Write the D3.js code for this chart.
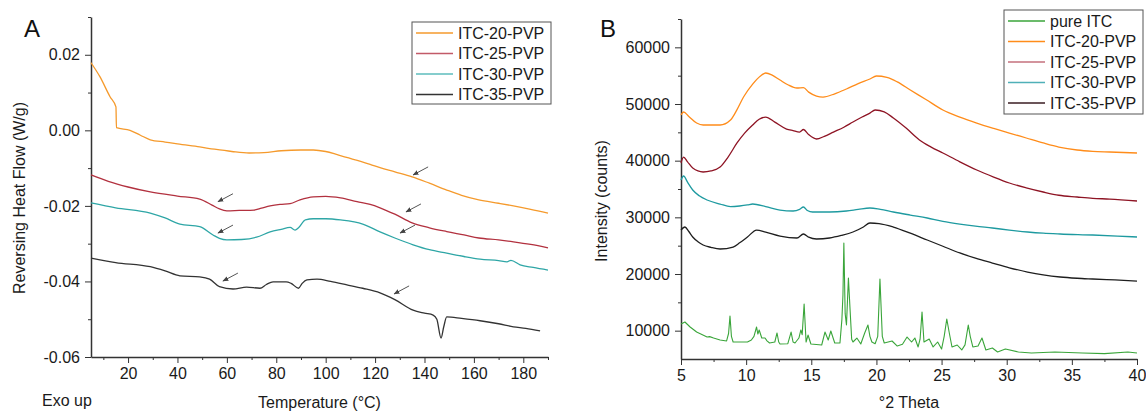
<!DOCTYPE html>
<html>
<head>
<meta charset="utf-8">
<script src="https://cdn.jsdelivr.net/npm/d3@7"></script>
<style>
  body { margin: 0; background: #fff; }
  svg { font-family: "Liberation Sans", Arial, sans-serif; }
  .axis path, .axis line { stroke: #333; }
  .axis path { stroke-width: 1.5; }
  .axis text { font-size: 16px; fill: #1a1a1a; }
  .lbl { font-size: 16px; fill: #1a1a1a; }
</style>
</head>
<body>
<svg id="chart" width="1146" height="414"></svg>
<script>
// ---- data: panel A, DSC reversing heat flow [T (°C), W/g]
const itc20Dsc = [[5,0.0179],[8.6,0.0142],[12.7,0.0089],[15.1,0.0062],[15.3,0.0007],[20.8,0],[25,-0.0013],[29,-0.0025],[35,-0.0031],[40,-0.0036],[49,-0.0044],[55,-0.0050],[62,-0.0056],[69,-0.0060],[75,-0.0059],[82,-0.0054],[90,-0.0052],[95,-0.0052],[100,-0.0056],[105,-0.0065],[112,-0.0078],[118,-0.0090],[122,-0.0099],[128,-0.0110],[135,-0.0123],[142,-0.0140],[149,-0.0158],[155,-0.0172],[162,-0.0184],[170,-0.0193],[176,-0.0200],[183,-0.0209],[190,-0.0219]];
const itc25Dsc = [[5,-0.0118],[12,-0.0135],[20,-0.0150],[29,-0.0163],[40,-0.0174],[49,-0.0182],[54,-0.0198],[57,-0.0208],[60,-0.0213],[65,-0.0212],[71,-0.0211],[74,-0.0206],[77.5,-0.0200],[81.5,-0.0196],[85.6,-0.0194],[89.6,-0.0184],[95,-0.0176],[100,-0.0175],[106,-0.0179],[112.7,-0.0189],[118,-0.0196],[122,-0.0205],[128,-0.0222],[135,-0.0245],[142,-0.0258],[149,-0.0268],[156,-0.0277],[162,-0.0285],[170,-0.0290],[176,-0.0295],[183,-0.0302],[190,-0.0311]];
const itc30Dsc = [[5,-0.0192],[15,-0.0205],[29,-0.0219],[35,-0.0232],[41,-0.0248],[49,-0.0255],[54.4,-0.0277],[57,-0.0286],[60,-0.0290],[66,-0.0289],[72,-0.0283],[77.5,-0.0269],[82,-0.0262],[85.6,-0.0257],[87.6,-0.0264],[89,-0.0258],[91.8,-0.0237],[95,-0.0234],[100,-0.0234],[106,-0.0237],[115,-0.0248],[122,-0.0269],[128,-0.0285],[135.4,-0.0303],[142,-0.0316],[149,-0.0325],[156,-0.0334],[162.5,-0.0341],[170,-0.0345],[173.4,-0.0348],[175,-0.0344],[178.7,-0.0356],[184,-0.0363],[190,-0.0370]];
const itc35Dsc = [[5,-0.0338],[15,-0.0350],[29,-0.0361],[35,-0.0372],[41,-0.0385],[49,-0.0388],[53,-0.0394],[57,-0.0414],[62.5,-0.0420],[68,-0.0415],[73.4,-0.0418],[76,-0.0408],[78.7,-0.0401],[84,-0.0401],[86,-0.0405],[89,-0.0418],[90.5,-0.0405],[92.4,-0.0396],[96.5,-0.0394],[102,-0.0400],[108.6,-0.0409],[115,-0.0418],[122,-0.0430],[128,-0.0448],[135.4,-0.0476],[140,-0.0484],[143.5,-0.0489],[145,-0.0500],[146.7,-0.0550],[147.8,-0.0520],[149,-0.0494],[155,-0.0498],[162.5,-0.0504],[170,-0.0512],[176,-0.0520],[181,-0.0524],[186.8,-0.0531]];
// arrow tips (T, W/g) marking the glass transitions
const dscArrows = [[135.4,-0.0118],[56.4,-0.0189],[132.5,-0.0216],[56.4,-0.0272],[130.1,-0.0272],[58.4,-0.0399],[127.7,-0.0433]];

// ---- data: panel B, XRD [°2θ, counts]
const pureItcXrd = [[5,11180],[5.3,11530],[5.7,10650],[6.2,9760],[7.0,8880],[7.2,8950],[7.5,8700],[8,8350],[8.5,8180],[8.65,9500],[8.76,12590],[8.87,9000],[9.0,8000],[10.1,8000],[10.4,8350],[10.6,9000],[10.8,10650],[10.9,9400],[11.0,10120],[11.2,8700],[11.45,8700],[11.6,8200],[11.8,7820],[12.2,8000],[12.37,9590],[12.5,8000],[12.6,7650],[13.2,7700],[13.45,9760],[13.6,8000],[13.75,7820],[14.05,8700],[14.2,10120],[14.3,9300],[14.45,14710],[14.6,8000],[14.75,9230],[14.97,7650],[15.8,7470],[16.05,9760],[16.3,8350],[16.5,9940],[16.8,7820],[17.2,7820],[17.35,12000],[17.43,16290],[17.5,25470],[17.6,13000],[17.7,11000],[17.85,19300],[17.97,14000],[18.1,8500],[18.2,8000],[18.5,8700],[18.8,7650],[19.1,9590],[19.35,11000],[19.5,9000],[19.65,8000],[19.9,7700],[20.1,9000],[20.27,19120],[20.45,9000],[20.6,7820],[21.2,8180],[21.6,7290],[22.0,7600],[22.35,8880],[22.7,8000],[22.95,8700],[23.2,7120],[23.35,8500],[23.5,13290],[23.65,8000],[24.05,8530],[24.35,7120],[24.7,8000],[25.0,6760],[25.2,9000],[25.4,12060],[25.6,9500],[25.8,7120],[26.2,7470],[26.55,6590],[26.8,7500],[27.05,11000],[27.2,9000],[27.4,7120],[27.8,7300],[28.1,8700],[28.4,6590],[28.9,6940],[29.3,6230],[29.9,6760],[30.9,6230],[31.9,6060],[33.7,6230],[35.8,6060],[37.5,5950],[39.3,6230],[40,6060]];
const itc20Xrd = [[5,48060],[5.2,48590],[5.6,47800],[6.2,46640],[6.7,46290],[8,46290],[8.8,47170],[9.3,49000],[9.8,51230],[10.5,53500],[11.1,54940],[11.5,55470],[12,55100],[12.6,54230],[13.2,53400],[13.9,52820],[14.4,52900],[14.8,52100],[15.4,51410],[15.9,51230],[16.8,51800],[17.7,52650],[18.6,53600],[19.5,54410],[20.0,54940],[20.8,54700],[21.6,53900],[22.6,52470],[23.8,50800],[25.1,48940],[26.4,47700],[27.7,46640],[29,45700],[30.2,44880],[31.5,44000],[32.8,43120],[34,42400],[35.4,41880],[36.6,41650],[37.9,41530],[40,41350]];
const itc25Xrd = [[5,39590],[5.2,40640],[5.5,39800],[5.9,38700],[6.7,38000],[7.3,38200],[8,38880],[8.6,40600],[9.3,43120],[9.9,44900],[10.5,46290],[11,47300],[11.5,47700],[12.2,46800],[13.1,45580],[13.6,45300],[14.1,45050],[14.4,45500],[14.8,44600],[15.4,43820],[16,44300],[16.7,45050],[17.5,45900],[18.2,46820],[18.9,47700],[19.5,48400],[19.9,48940],[20.6,48600],[21.3,47530],[22.3,45700],[23.3,43650],[24.2,42400],[25.1,41350],[26.4,39800],[27.7,38350],[29,37100],[30.2,36060],[31.5,35200],[32.8,34470],[34,33900],[35.4,33590],[36.6,33350],[37.9,33230],[40,32880]];
const itc30Xrd = [[5,36590],[5.2,37290],[5.5,36200],[5.9,34820],[6.4,33800],[7,33060],[8,32350],[8.8,31900],[9.5,32000],[10.1,32180],[10.5,32350],[11.5,31900],[12.6,31290],[13.6,31120],[14.1,31400],[14.4,31820],[14.7,31200],[15.1,30940],[16.4,30940],[17.7,31120],[18.6,31400],[19.5,31650],[20.3,31400],[21.3,30940],[22.6,30400],[23.9,29880],[25.1,29300],[26.4,28820],[27.6,28450],[28.9,28120],[30.2,27750],[31.6,27410],[32.8,27200],[34.1,27060],[36.6,26880],[38.5,26700],[40,26530]];
const itc35Xrd = [[5,27760],[5.3,28290],[5.6,27500],[5.9,26530],[6.3,25700],[6.7,25120],[7.3,24700],[8,24410],[9,24760],[9.5,25500],[10.1,26530],[10.8,27760],[11.5,27400],[12.6,26700],[13.9,26350],[14.4,27060],[14.8,26500],[15.4,26180],[16.4,26350],[17.3,26800],[18.2,27410],[19,28300],[19.5,29000],[20.2,28900],[21.3,28290],[22.6,27200],[23.9,26000],[25.1,24900],[26.4,23710],[27.6,22800],[28.9,21940],[30.2,21100],[31.6,20350],[32.8,19850],[34.1,19470],[35.4,19250],[36.6,19120],[38.3,18950],[40,18760]];

// ticks
const dscXTicks = [20, 40, 60, 80, 100, 120, 140, 160, 180];
const dscXMinor = [10, 30, 50, 70, 90, 110, 130, 150, 170, 190];
const dscYTicks = [0.02, 0, -0.02, -0.04, -0.06];
const dscYMinor = [0.03, 0.01, -0.01, -0.03, -0.05];
const xrdXTicks = [5, 10, 15, 20, 25, 30, 35, 40];
const xrdXMinor = [7.5, 12.5, 17.5, 22.5, 27.5, 32.5, 37.5];
const xrdYTicks = [10000, 20000, 30000, 40000, 50000, 60000];
const xrdYMinor = [15000, 25000, 35000, 45000, 55000, 65000];

const svg = d3.select('#chart');

// arrowhead marker
svg.append('defs').append('marker')
    .attr('id', 'ah')
    .attr('viewBox', '0 0 10 10')
    .attr('refX', 9).attr('refY', 5)
    .attr('markerWidth', 6).attr('markerHeight', 6)
    .attr('orient', 'auto')
  .append('path')
    .attr('d', 'M0,1 L10,5 L0,9 z')
    .attr('fill', '#444');

function drawPanel(p) {
    const x = d3.scaleLinear().domain(p.xDomain).range([p.left, p.right]);
    const y = d3.scaleLinear().domain(p.yDomain).range([p.bottom, p.top]);
    const g = svg.append('g');

    // minor ticks first, then the labelled axes
    g.append('g').attr('class', 'axis')
        .attr('transform', `translate(0,${p.bottom})`)
        .call(d3.axisBottom(x).tickValues(p.xMinor).tickSize(3).tickFormat(''))
        .call(s => s.select('.domain').remove());
    g.append('g').attr('class', 'axis')
        .attr('transform', `translate(${p.left},0)`)
        .call(d3.axisLeft(y).tickValues(p.yMinor).tickSize(3).tickFormat(''))
        .call(s => s.select('.domain').remove());

    g.append('g').attr('class', 'axis')
        .attr('transform', `translate(0,${p.bottom})`)
        .call(d3.axisBottom(x).tickValues(p.xTicks).tickSize(6).tickPadding(5).tickSizeOuter(0));
    g.append('g').attr('class', 'axis')
        .attr('transform', `translate(${p.left},0)`)
        .call(d3.axisLeft(y).tickValues(p.yTicks).tickSize(6).tickPadding(5).tickSizeOuter(0)
            .tickFormat(p.yFormat));

    const line = d3.line()
        .x(d => x(d[0]))
        .y(d => y(d[1]));

    p.series.forEach(s => {
        g.append('path')
            .datum(s.data)
            .attr('fill', 'none')
            .attr('stroke', s.color)
            .attr('stroke-width', s.sharp ? 1.1 : 1.3)
            .attr('stroke-linejoin', 'round')
            .attr('d', line.curve(s.sharp ? d3.curveLinear : d3.curveMonotoneX));
    });

    // legend
    const lg = g.append('g');
    lg.append('rect')
        .attr('x', p.legend.x).attr('y', p.legend.y)
        .attr('width', p.legend.w).attr('height', p.legend.h)
        .attr('fill', '#fff').attr('stroke', '#555').attr('stroke-width', 1);
    p.legendOrder.forEach((s, i) => {
        const ly = p.legend.y + 11 + i * 20.5;
        lg.append('line')
            .attr('x1', p.legend.x + 4).attr('x2', p.legend.x + 41)
            .attr('y1', ly).attr('y2', ly)
            .attr('stroke', s.legendColor || s.color).attr('stroke-width', 1.3);
        lg.append('text')
            .attr('class', 'lbl')
            .attr('x', p.legend.x + 46).attr('y', ly)
            .attr('dominant-baseline', 'central')
            .text(s.name);
    });

    // titles
    g.append('text').attr('class', 'lbl')
        .attr('x', (p.left + p.right) / 2).attr('y', 408)
        .attr('text-anchor', 'middle')
        .text(p.xTitle);
    g.append('text').attr('class', 'lbl')
        .attr('transform', `translate(${p.yTitleX},${p.yTitleY}) rotate(-90)`)
        .attr('text-anchor', 'middle')
        .text(p.yTitle);
    g.append('text')
        .attr('x', p.letterX).attr('y', 37)
        .style('font-size', '24px').attr('fill', '#111')
        .text(p.letter);

    return { g, x, y };
}

// plain hyphen for negatives, as in the original
const hyphen = f => d => f(d).replace('\u2212', '-');

// ---- panel A
const dscSeries = [
    { name: 'ITC-20-PVP', data: itc20Dsc, color: '#f59a2c' },
    { name: 'ITC-25-PVP', data: itc25Dsc, color: '#b2313f', legendColor: '#c25a68' },
    { name: 'ITC-30-PVP', data: itc30Dsc, color: '#2ea6a6', legendColor: '#5cbcbc' },
    { name: 'ITC-35-PVP', data: itc35Dsc, color: '#333333' }
];
const pa = drawPanel({
    left: 91, right: 548, top: 17, bottom: 357,
    xDomain: [5, 190], yDomain: [-0.06, 0.03],
    xTicks: dscXTicks, xMinor: dscXMinor, yTicks: dscYTicks, yMinor: dscYMinor,
    yFormat: hyphen(d3.format('.2f')),
    series: dscSeries, legendOrder: dscSeries,
    legend: { x: 412, y: 22, w: 139, h: 82 },
    xTitle: 'Temperature (°C)', yTitle: 'Reversing Heat Flow (W/g)',
    yTitleX: 25, yTitleY: 198,
    letter: 'A', letterX: 24
});

pa.g.append('text').attr('class', 'lbl')
    .attr('x', 42).attr('y', 406)
    .text('Exo up');

pa.g.selectAll('.arrow')
    .data(dscArrows)
    .join('line')
    .attr('class', 'arrow')
    .attr('x1', d => pa.x(d[0]) + 15).attr('y1', d => pa.y(d[1]) - 8)
    .attr('x2', d => pa.x(d[0])).attr('y2', d => pa.y(d[1]))
    .attr('stroke', '#555').attr('stroke-width', 1)
    .attr('marker-end', 'url(#ah)');

// ---- panel B
const xrdSeries = [
    { name: 'pure ITC', data: pureItcXrd, color: '#3aa53a', sharp: true },
    { name: 'ITC-20-PVP', data: itc20Xrd, color: '#ff8c1a' },
    { name: 'ITC-25-PVP', data: itc25Xrd, color: '#8e1424', legendColor: '#c4707c' },
    { name: 'ITC-30-PVP', data: itc30Xrd, color: '#1e9aa0', legendColor: '#4fb0b8' },
    { name: 'ITC-35-PVP', data: itc35Xrd, color: '#1e1e1e', legendColor: '#3a1c22' }
];
drawPanel({
    left: 681, right: 1137, top: 19, bottom: 359,
    xDomain: [5, 40], yDomain: [5000, 65000],
    xTicks: xrdXTicks, xMinor: xrdXMinor, yTicks: xrdYTicks, yMinor: xrdYMinor,
    yFormat: d3.format('d'),
    series: xrdSeries, legendOrder: xrdSeries,
    legend: { x: 1004, y: 10, w: 139, h: 104 },
    xTitle: '°2 Theta', yTitle: 'Intensity (counts)',
    yTitleX: 607, yTitleY: 201,
    letter: 'B', letterX: 600
});
</script>
</body>
</html>
